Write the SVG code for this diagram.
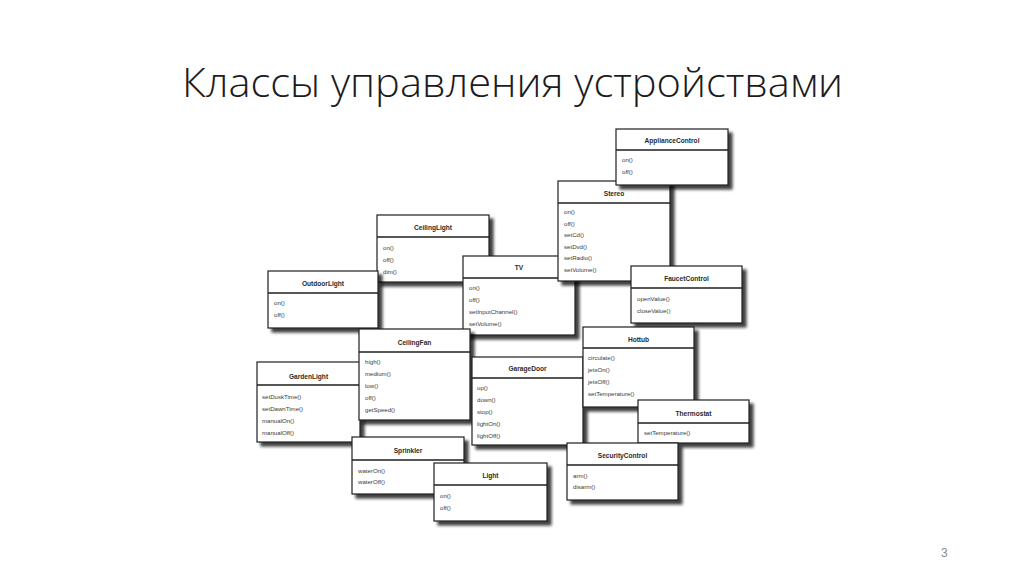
<svg xmlns="http://www.w3.org/2000/svg" width="1024" height="574" viewBox="0 0 1024 574">
<defs>
<filter id="sh" x="-10%" y="-10%" width="130%" height="140%">
<feGaussianBlur in="SourceAlpha" stdDeviation="1.5"/>
<feOffset dx="3.5" dy="3.5"/>
<feComponentTransfer><feFuncA type="linear" slope="0.75"/></feComponentTransfer>
<feMerge><feMergeNode/><feMergeNode in="SourceGraphic"/></feMerge>
</filter>
</defs>
<style>
.box{fill:#fff;stroke:#1e1e1e;stroke-width:1.2;filter:url(#sh)}
.div{stroke:#1e1e1e;stroke-width:1.3}
.t{font-family:"Liberation Sans",Arial,sans-serif;font-size:6.6px;font-weight:bold;fill:#2a2a2a;text-anchor:middle}
.m{font-family:"Liberation Sans",Arial,sans-serif;font-size:6.1px;fill:#3a3a3a}
.title{font-family:"Open Sans","Liberation Sans",sans-serif;font-size:40px;font-weight:300;fill:#1c1c1c}
.pg{font-family:"Liberation Sans",Arial,sans-serif;font-size:12px;fill:#8a8a8a}
</style>
<rect width="1024" height="574" fill="#fff"/>
<text class="title" x="182" y="97" textLength="661" lengthAdjust="spacingAndGlyphs">Классы управления устройствами</text>
<text class="pg" x="941" y="557">3</text>
<g id="connectors"/>

<g id="CeilingLight" transform="translate(377,215)">
<rect class="box" width="112" height="67"/><line class="div" x1="0" y1="22" x2="112" y2="22"/>
<text class="t" x="56" y="14.5">CeilingLight</text>
<text class="m" x="6" y="35">on()</text><text class="m" x="6" y="47">off()</text><text class="m" x="6" y="59">dim()</text>
</g>

<g id="TV" transform="translate(463,256)">
<rect class="box" width="112" height="79"/><line class="div" x1="0" y1="22" x2="112" y2="22"/>
<text class="t" x="56" y="13.5">TV</text>
<text class="m" x="6" y="34">on()</text><text class="m" x="6" y="46">off()</text><text class="m" x="6" y="58">setInputChannel()</text><text class="m" x="6" y="70">setVolume()</text>
</g>

<g id="Stereo" transform="translate(558,181)">
<rect class="box" width="112" height="100"/><line class="div" x1="0" y1="22" x2="112" y2="22"/>
<text class="t" x="56" y="14.5">Stereo</text>
<text class="m" x="6" y="33">on()</text><text class="m" x="6" y="44.5">off()</text><text class="m" x="6" y="56">setCd()</text><text class="m" x="6" y="67.5">setDvd()</text><text class="m" x="6" y="79">setRadio()</text><text class="m" x="6" y="90.5">setVolume()</text>
</g>

<g id="ApplianceControl" transform="translate(616,129)">
<rect class="box" width="112" height="56"/><line class="div" x1="0" y1="21" x2="112" y2="21"/>
<text class="t" x="56" y="13.5">ApplianceControl</text>
<text class="m" x="6" y="33">on()</text><text class="m" x="6" y="45">off()</text>
</g>

<g id="FaucetControl" transform="translate(631,266)">
<rect class="box" width="111" height="57"/><line class="div" x1="0" y1="22" x2="111" y2="22"/>
<text class="t" x="55.5" y="14.5">FaucetControl</text>
<text class="m" x="6" y="35">openValue()</text><text class="m" x="6" y="47">closeValue()</text>
</g>

<g id="OutdoorLight" transform="translate(268,271)">
<rect class="box" width="110" height="57"/><line class="div" x1="0" y1="22" x2="110" y2="22"/>
<text class="t" x="55" y="14.5">OutdoorLight</text>
<text class="m" x="6" y="34">on()</text><text class="m" x="6" y="46">off()</text>
</g>

<g id="GardenLight" transform="translate(257,362)">
<rect class="box" width="103" height="80"/><line class="div" x1="0" y1="23" x2="103" y2="23"/>
<text class="t" x="51.5" y="16.5">GardenLight</text>
<text class="m" x="5" y="37">setDuskTime()</text><text class="m" x="5" y="49">setDawnTime()</text><text class="m" x="5" y="61">manualOn()</text><text class="m" x="5" y="73">manualOff()</text>
</g>

<g id="CeilingFan" transform="translate(359,329)">
<rect class="box" width="111" height="91"/><line class="div" x1="0" y1="23" x2="111" y2="23"/>
<text class="t" x="55.5" y="15.5">CeilingFan</text>
<text class="m" x="6" y="35">high()</text><text class="m" x="6" y="47">medium()</text><text class="m" x="6" y="59">low()</text><text class="m" x="6" y="71">off()</text><text class="m" x="6" y="83">getSpeed()</text>
</g>

<g id="GarageDoor" transform="translate(472,357)">
<rect class="box" width="111" height="88"/><line class="div" x1="0" y1="21" x2="111" y2="21"/>
<text class="t" x="55.5" y="13.5">GarageDoor</text>
<text class="m" x="5" y="33">up()</text><text class="m" x="5" y="45">down()</text><text class="m" x="5" y="57">stop()</text><text class="m" x="5" y="69">lightOn()</text><text class="m" x="5" y="81">lightOff()</text>
</g>

<g id="Hottub" transform="translate(583,327)">
<rect class="box" width="111" height="80"/><line class="div" x1="0" y1="21" x2="111" y2="21"/>
<text class="t" x="55.5" y="14.5">Hottub</text>
<text class="m" x="5" y="33">circulate()</text><text class="m" x="5" y="45">jetsOn()</text><text class="m" x="5" y="57">jetsOff()</text><text class="m" x="5" y="69">setTemperature()</text>
</g>

<g id="Thermostat" transform="translate(638,400)">
<rect class="box" width="111" height="43"/><line class="div" x1="0" y1="23" x2="111" y2="23"/>
<text class="t" x="55.5" y="15.5">Thermostat</text>
<text class="m" x="6" y="35">setTemperature()</text>
</g>

<g id="SecurityControl" transform="translate(567,443)">
<rect class="box" width="111" height="57"/><line class="div" x1="0" y1="22" x2="111" y2="22"/>
<text class="t" x="55.5" y="14.5">SecurityControl</text>
<text class="m" x="6" y="35">arm()</text><text class="m" x="6" y="46">disarm()</text>
</g>

<g id="Sprinkler" transform="translate(352,437)">
<rect class="box" width="112" height="57"/><line class="div" x1="0" y1="23" x2="112" y2="23"/>
<text class="t" x="56" y="15.5">Sprinkler</text>
<text class="m" x="6" y="36">waterOn()</text><text class="m" x="6" y="47">waterOff()</text>
</g>

<g id="Light" transform="translate(434,463)">
<rect class="box" width="113" height="58"/><line class="div" x1="0" y1="22" x2="113" y2="22"/>
<text class="t" x="56.5" y="14.5">Light</text>
<text class="m" x="6" y="35">on()</text><text class="m" x="6" y="47">off()</text>
</g>
</svg>
